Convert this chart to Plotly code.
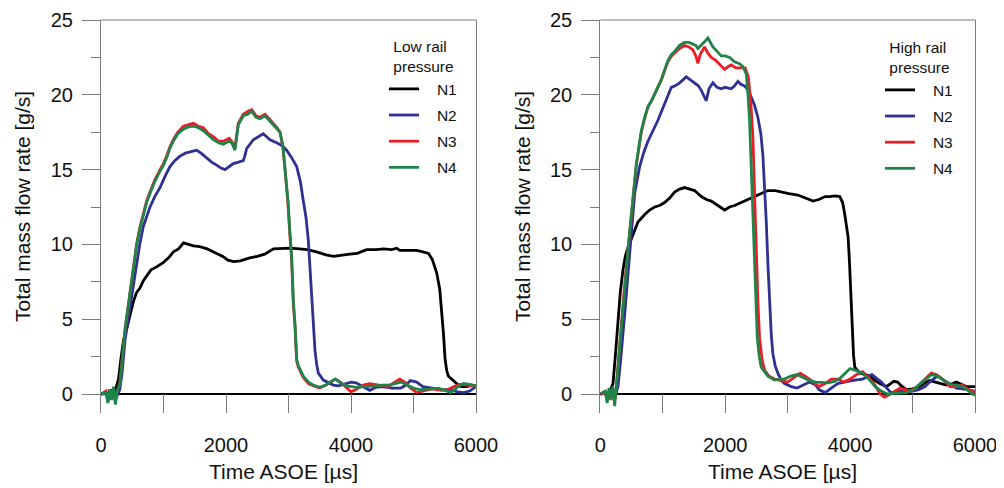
import plotly.graph_objects as go

# ---------------- data ----------------
# Low rail pressure
t_low_n1 = [0, 80, 120, 160, 200, 240, 280, 320, 360, 420, 470, 520, 570, 625, 680, 730, 800, 890, 1000, 1080,
            1160, 1240, 1320, 1400, 1480, 1580, 1700, 1850, 1950, 2030, 2120, 2230, 2380, 2500, 2620, 2760, 2900,
            3020, 3180, 3300, 3450, 3600, 3720, 3850, 3980, 4100, 4250, 4400, 4520, 4650, 4731, 4780, 4900, 5050,
            5150, 5240, 5300, 5371, 5420, 5451, 5480, 5504, 5530, 5557, 5630, 5690, 5760, 5850, 5930, 6000]
v_low_n1 = [0, 0.1, -0.3, 0.3, -0.2, 0.4, 1.0, 2.4, 3.6, 4.5, 5.3, 6.2, 6.8, 7.1, 7.6, 7.9, 8.3, 8.5, 8.8, 9.1,
            9.5, 9.7, 10.1, 10.0, 9.9, 9.85, 9.7, 9.4, 9.2, 8.95, 8.85, 8.9, 9.1, 9.2, 9.35, 9.7, 9.75,
            9.75, 9.7, 9.65, 9.5, 9.3, 9.2, 9.25, 9.35, 9.4, 9.65, 9.65, 9.7, 9.65, 9.75, 9.6, 9.6, 9.6,
            9.5, 9.4, 9.0, 8.1, 7.0, 5.6, 4.0, 2.4, 1.6, 1.2, 0.9, 0.7, 0.5, 0.5, 0.6, 0.55]

t_low_n2 = [0, 100, 150, 200, 250, 300, 340, 384, 420, 464, 520, 570, 620, 677, 730, 784, 860, 944, 1030, 1104,
            1180, 1264, 1350, 1424, 1530, 1600, 1690, 1770, 1850, 1920, 1984, 2050, 2117, 2200, 2277, 2300, 2330,
            2437, 2520, 2597, 2650, 2704, 2810, 2900, 2970, 3050, 3131, 3190, 3237, 3280, 3317, 3345, 3371, 3400,
            3424, 3450, 3477, 3557, 3640, 3717, 3800, 3900, 4000, 4080, 4180, 4300, 4400, 4500, 4650, 4800, 4880,
            4950, 5050, 5150, 5300, 5450, 5600, 5700, 5800, 5900, 6000]
v_low_n2 = [0, 0.05, -0.3, 0.1, -0.2, 0.3, 1.5, 3.6, 4.6, 5.8, 7.3, 8.7, 10.0, 11.2, 11.9, 12.5, 13.2, 13.8, 14.6, 15.2,
            15.6, 15.9, 16.1, 16.2, 16.3, 16.1, 15.8, 15.5, 15.3, 15.1, 15.0, 15.2, 15.4, 15.5, 15.6, 15.9, 16.4,
            17.0, 17.2, 17.4, 17.2, 17.0, 16.8, 16.6, 16.3, 15.8, 15.2, 14.2, 12.9, 11.8, 10.3, 8.4, 6.3, 4.4,
            2.9, 2.0, 1.4, 0.93, 0.75, 0.6, 0.55, 0.65, 0.8, 0.75, 0.5, 0.25, 0.45, 0.5, 0.4, 0.4, 0.6,
            0.9, 0.8, 0.5, 0.4, 0.3, 0.3, 0.15, 0.1, 0.2, 0.5]

t_low_n3 = [0, 80, 110, 140, 170, 200, 230, 260, 304, 340, 384, 420, 464, 520, 570, 620, 677, 730, 784, 860,
            944, 1000, 1050, 1100, 1157, 1230, 1317, 1400, 1477, 1560, 1637, 1720, 1797, 1880, 1957, 2050, 2090,
            2144, 2197, 2277, 2350, 2411, 2480, 2544, 2624, 2690, 2757, 2820, 2864, 2910, 2944, 2990, 3024, 3050,
            3077, 3104, 3131, 3157, 3237, 3320, 3397, 3500, 3600, 3680, 3750, 3830, 3920, 4000, 4080, 4200, 4300,
            4400, 4500, 4600, 4700, 4780, 4860, 4950, 5050, 5150, 5300, 5450, 5550, 5650, 5750, 5850, 6000]
v_low_n3 = [0, 0.2, -0.5, 0.3, -0.3, 0.4, -0.5, 0.2, 0.8, 2.6, 4.3, 5.4, 6.7, 8.4, 10.0, 11.1, 12.1, 12.9, 13.5, 14.3,
            15.0, 15.4, 15.9, 16.5, 17.0, 17.5, 17.9, 18.0, 18.1, 17.9, 17.8, 17.4, 17.2, 16.9, 16.9, 17.1, 16.9,
            16.5, 18.1, 18.7, 18.9, 19.0, 18.6, 18.5, 18.7, 18.4, 18.1, 17.8, 17.5, 16.5, 15.0, 12.8, 10.5, 9.0,
            6.0, 4.5, 2.2, 1.8, 1.1, 0.7, 0.55, 0.4, 0.6, 0.8, 1.0, 0.8, 0.45, 0.15, 0.3, 0.6, 0.7,
            0.65, 0.55, 0.5, 0.8, 1.0, 0.8, 0.4, 0.1, 0.2, 0.35, 0.25, 0.3, 0.5, 0.65, 0.6, 0.5]

t_low_n4 = [0, 80, 110, 140, 170, 200, 230, 260, 304, 340, 384, 420, 464, 520, 570, 620, 677, 730, 784, 860,
            944, 1000, 1050, 1100, 1157, 1230, 1317, 1400, 1477, 1560, 1637, 1720, 1797, 1880, 1957, 2050, 2090,
            2144, 2197, 2277, 2350, 2411, 2480, 2544, 2624, 2690, 2757, 2820, 2864, 2910, 2944, 2990, 3024, 3050,
            3077, 3104, 3131, 3157, 3237, 3320, 3397, 3500, 3600, 3680, 3750, 3830, 3920, 4000, 4100, 4200, 4300,
            4400, 4500, 4600, 4700, 4800, 4900, 5000, 5100, 5200, 5300, 5400, 5500, 5600, 5700, 5800, 5900, 6000]
v_low_n4 = [0, 0.1, -0.6, 0.3, -0.4, 0.5, -0.7, 0.2, 0.7, 2.5, 4.3, 5.4, 6.7, 8.4, 10.0, 11.0, 12.0, 12.8, 13.4, 14.2,
            14.9, 15.3, 15.8, 16.4, 16.9, 17.4, 17.7, 17.85, 17.9, 17.8, 17.6, 17.3, 17.0, 16.8, 16.7, 16.9, 16.8,
            16.3, 18.0, 18.6, 18.7, 18.9, 18.5, 18.4, 18.6, 18.3, 18.0, 17.7, 17.5, 16.6, 15.2, 13.0, 10.7, 9.2,
            6.3, 4.7, 2.3, 1.9, 1.2, 0.8, 0.6, 0.45, 0.6, 0.85, 1.0, 0.75, 0.55, 0.5, 0.45, 0.5, 0.5,
            0.55, 0.6, 0.6, 0.7, 0.8, 0.6, 0.4, 0.3, 0.3, 0.35, 0.4, 0.25, 0.1, 0.45, 0.7, 0.65, 0.55]

# High rail pressure
t_high_n1 = [0, 80, 120, 160, 203, 240, 283, 320, 363, 400, 443, 523, 603, 710, 790, 870, 950, 1030, 1110, 1190,
             1270, 1350, 1430, 1510, 1617, 1700, 1777, 1880, 1990, 2070, 2150, 2310, 2470, 2580, 2683, 2800, 2897,
             3020, 3163, 3300, 3408, 3500, 3600, 3675, 3760, 3835, 3880, 3915, 3945, 3968, 3990, 4006, 4020, 4038,
             4055, 4075, 4155, 4240, 4315, 4400, 4475, 4582, 4650, 4700, 4760, 4820, 4902, 5000, 5115, 5200, 5275,
             5400, 5542, 5640, 5702, 5780, 5862, 6000]
v_high_n1 = [0, 0.1, -0.2, 0.2, 0.7, 2.5, 4.9, 6.8, 8.3, 9.2, 9.8, 10.7, 11.5, 12.0, 12.3, 12.5, 12.6, 12.8, 13.1, 13.5,
             13.7, 13.8, 13.7, 13.6, 13.2, 13.0, 12.9, 12.6, 12.3, 12.5, 12.6, 12.9, 13.2, 13.4, 13.6, 13.6, 13.5,
             13.4, 13.3, 13.1, 12.9, 13.0, 13.2, 13.2, 13.25, 13.2, 12.8, 12.0, 11.2, 10.5, 8.8, 7.2, 5.5, 3.8,
             2.6, 1.8, 1.4, 1.3, 1.2, 0.9, 0.7, 0.5, 0.7, 0.85, 0.8, 0.55, 0.3, 0.35, 0.5, 0.75, 0.9,
             0.75, 0.6, 0.7, 0.8, 0.65, 0.5, 0.5]

t_high_n2 = [0, 100, 150, 200, 250, 283, 320, 363, 400, 443, 500, 550, 630, 700, 763, 840, 923, 1030, 1137, 1200,
             1270, 1377, 1440, 1510, 1570, 1617, 1697, 1740, 1803, 1870, 1937, 2000, 2097, 2150, 2203, 2250, 2310,
             2370, 2417, 2470, 2523, 2570, 2603, 2630, 2657, 2685, 2710, 2737, 2763, 2800, 2843, 2900, 2950, 3057,
             3150, 3200, 3350, 3450, 3500, 3600, 3700, 3800, 3900, 4000, 4100, 4200, 4350, 4500, 4580, 4650, 4800,
             4900, 5000, 5100, 5200, 5300, 5400, 5550, 5700, 5800, 5900, 6000]
v_high_n2 = [0, 0.1, -0.2, 0.1, 0.0, 0.5, 2.0, 3.8, 5.8, 8.0, 11.0, 13.4, 15.2, 16.2, 16.9, 17.6, 18.3, 19.4, 20.5, 20.6,
             20.8, 21.2, 21.0, 20.8, 20.6, 20.3, 19.6, 20.4, 20.8, 20.5, 20.4, 20.5, 20.4, 20.6, 20.9, 20.7, 20.6,
             20.3, 19.8, 19.3, 18.5, 17.4, 16.0, 14.0, 11.6, 8.6, 6.0, 4.0, 2.7, 1.9, 1.4, 0.9, 0.7, 0.5,
             0.4, 0.5, 0.8, 0.6, 0.3, 0.1, 0.4, 0.7, 0.8, 0.9, 0.95, 1.0, 1.3, 0.8, 0.4, 0.1, 0.2,
             0.15, 0.2, 0.3, 0.5, 0.9, 1.2, 0.8, 0.4, 0.35, 0.3, 0.2]

t_high_n3 = [0, 80, 110, 140, 170, 200, 240, 257, 300, 337, 380, 417, 460, 497, 540, 577, 620, 657, 710, 763,
             820, 870, 920, 977, 1030, 1083, 1140, 1190, 1270, 1350, 1420, 1483, 1530, 1563, 1600, 1670, 1720, 1777,
             1850, 1920, 1990, 2050, 2097, 2170, 2257, 2320, 2370, 2410, 2443, 2470, 2497, 2525, 2550, 2590, 2630,
             2700, 2790, 2900, 3000, 3100, 3200, 3280, 3350, 3500, 3600, 3700, 3800, 3900, 4000, 4100, 4200, 4300,
             4400, 4480, 4550, 4650, 4720, 4800, 4880, 4950, 5050, 5150, 5300, 5380, 5450, 5600, 5700, 5800, 5900, 6000]
v_high_n3 = [0, 0.1, -0.4, 0.2, -0.4, 0.3, -0.3, 0.6, 3.0, 4.9, 6.8, 8.5, 10.4, 12.0, 13.9, 15.3, 16.5, 17.5, 18.4, 19.2,
             19.6, 20.0, 20.5, 21.0, 21.6, 22.2, 22.6, 22.8, 23.1, 23.3, 23.2, 23.0, 22.6, 22.1, 22.7, 23.2, 22.8, 22.5,
             22.3, 22.0, 21.7, 21.9, 22.0, 21.8, 21.8, 21.8, 21.2, 19.5, 17.2, 13.5, 9.4, 6.0, 3.8, 2.3, 1.6,
             1.2, 1.0, 0.9, 0.8, 1.1, 1.4, 1.2, 1.0, 0.5, 0.7, 1.0, 1.0, 0.8, 1.0, 1.3, 1.5, 1.1,
             0.6, 0.0, -0.2, 0.0, 0.2, 0.4, 0.3, 0.2, 0.4, 0.8, 1.4, 1.3, 1.1, 0.5, 0.5, 0.6, 0.3, 0.1]

t_high_n4 = [0, 80, 110, 140, 170, 200, 230, 257, 300, 337, 380, 417, 460, 497, 540, 577, 620, 657, 710, 763,
             820, 870, 920, 977, 1030, 1083, 1140, 1190, 1270, 1350, 1420, 1483, 1530, 1563, 1617, 1680, 1723, 1770,
             1803, 1870, 1937, 2000, 2070, 2150, 2220, 2283, 2337, 2365, 2390, 2410, 2427, 2450, 2470, 2490, 2513,
             2545, 2577, 2630, 2683, 2790, 2870, 2950, 3050, 3150, 3250, 3350, 3450, 3550, 3650, 3750, 3850, 3950,
             4000, 4080, 4200, 4300, 4400, 4500, 4600, 4700, 4800, 4900, 5000, 5100, 5200, 5300, 5400, 5500, 5600,
             5700, 5800, 5900, 6000]
v_high_n4 = [0, 0.2, -0.6, 0.4, -0.3, 0.5, -0.8, 0.5, 2.8, 4.9, 6.8, 8.5, 10.4, 12.0, 13.9, 15.4, 16.6, 17.6, 18.5, 19.2,
             19.6, 20.0, 20.5, 21.0, 21.7, 22.3, 22.7, 22.9, 23.3, 23.5, 23.5, 23.4, 23.3, 23.1, 23.3, 23.6, 23.8, 23.5,
             23.2, 22.9, 22.6, 22.6, 22.5, 22.2, 22.1, 21.9, 21.4, 20.0, 18.3, 16.0, 13.8, 11.0, 8.3, 6.0, 3.8,
             2.5, 1.8, 1.5, 1.2, 0.93, 1.0, 1.0, 1.2, 1.3, 1.1, 0.9, 0.8, 0.8, 0.75, 0.85, 1.1, 1.5,
             1.7, 1.6, 1.4, 1.0, 0.5, 0.2, 0.0, 0.05, 0.1, 0.1, 0.25, 0.6, 0.95, 1.3, 1.2, 0.9, 0.65,
             0.6, 0.5, 0.2, -0.1]

series_names = ["N1", "N2", "N3", "N4"]
series_colors = ["#000000", "#2E3192", "#ED1C24", "#1E8449"]
x_tick_vals = [0, 2000, 4000, 6000]
y_tick_vals = [0, 5, 10, 15, 20, 25]
panel_legend_titles = ["Low rail<br>pressure", "High rail<br>pressure"]
x_title = "Time ASOE [µs]"
y_title = "Total mass flow rate [g/s]"

low_data = [(t_low_n1, v_low_n1), (t_low_n2, v_low_n2), (t_low_n3, v_low_n3), (t_low_n4, v_low_n4)]
high_data = [(t_high_n1, v_high_n1), (t_high_n2, v_high_n2), (t_high_n3, v_high_n3), (t_high_n4, v_high_n4)]

# ---------------- figure ----------------
# The page body adds an 8 px margin, so the figure is 8 px smaller and all
# reference pixel positions are shifted by that offset.
OFF = 8
W, H = 1004 - OFF, 488 - OFF
def px(X):
    return (X - OFF) / W
def py(Y):
    return 1 - (Y - OFF) / H

FONT = "Arial, Liberation Sans, Helvetica, sans-serif"
AX = "#7a7a7a"
TXT = "#111111"

fig = go.Figure()
for panel, (data, xa, ya, lg) in enumerate([(low_data, "x", "y", "legend"), (high_data, "x2", "y2", "legend2")]):
    for i, (t, v) in enumerate(data):
        fig.add_trace(go.Scatter(
            x=t, y=v, mode="lines", name="\u00a0\u00a0\u00a0" + series_names[i],
            line=dict(color=series_colors[i], width=2.8),
            xaxis=xa, yaxis=ya, legend=lg, legendgroup=f"{panel}-{i}",
        ))

y_dom = [py(413), py(20)]
x1_dom = [px(101), px(476)]
x2_dom = [px(600.3), px(975)]

def xaxis_cfg(dom, anchor):
    return dict(domain=dom, anchor=anchor, range=[0, 6000], tickvals=x_tick_vals,
                ticks="inside", ticklen=19, tickcolor=AX, tickwidth=1.2,
                minor=dict(dtick=1000, tick0=0, ticks="inside", ticklen=19, tickcolor=AX, tickwidth=1.2),
                showline=False, showgrid=False, zeroline=False, automargin=False,
                ticklabelstandoff=18,
                tickfont=dict(family=FONT, size=20, color=TXT))

def yaxis_cfg(anchor):
    return dict(domain=y_dom, anchor=anchor, range=[-19 / 15, 25], tickvals=y_tick_vals,
                ticks="outside", ticklen=18, tickcolor=AX, tickwidth=1.2,
                minor=dict(dtick=2.5, tick0=0, ticks="outside", ticklen=9, tickcolor=AX, tickwidth=1.2),
                showline=True, linecolor=AX, linewidth=1.2, mirror=True,
                showgrid=False, zeroline=True, zerolinecolor="#000000", zerolinewidth=1.5,
                automargin=False, ticklabelstandoff=5,
                tickfont=dict(family=FONT, size=20, color=TXT))

legend_common = dict(xanchor="left", yanchor="top", bgcolor="rgba(0,0,0,0)", borderwidth=0,
                     font=dict(family=FONT, size=15.5, color=TXT), tracegroupgap=3,
                     itemwidth=30)

fig.update_layout(
    template="none",
    width=W, height=H, margin=dict(l=0, r=0, t=0, b=0, pad=0, autoexpand=False),
    paper_bgcolor="white", plot_bgcolor="white",
    xaxis=xaxis_cfg(x1_dom, "y"), yaxis=yaxis_cfg("x"),
    xaxis2=xaxis_cfg(x2_dom, "y2"), yaxis2=yaxis_cfg("x2"),
    legend=dict(x=px(384), y=py(32),
                title=dict(text=panel_legend_titles[0], side="top center",
                           font=dict(family=FONT, size=15.5, color=TXT)), **legend_common),
    legend2=dict(x=px(880), y=py(33),
                 title=dict(text=panel_legend_titles[1], side="top center",
                            font=dict(family=FONT, size=15.5, color=TXT)), **legend_common),
    showlegend=True,
)

# frame tops (top border of each panel)
for xr, yr in [("x domain", "y domain"), ("x2 domain", "y2 domain")]:
    fig.add_shape(type="line", xref=xr, yref=yr, x0=0, x1=1, y0=1, y1=1,
                  line=dict(color=AX, width=1.2))

# axis titles
for cx, cy_x, cx_y in [(283, 471, 22.5), (782.5, 471, 522.5)]:
    fig.add_annotation(text=x_title, x=px(cx), y=py(cy_x), xref="paper", yref="paper",
                       showarrow=False, xanchor="center", yanchor="middle",
                       font=dict(family=FONT, size=21, color=TXT))
    fig.add_annotation(text=y_title, x=px(cx_y), y=py(206.5), xref="paper", yref="paper",
                       showarrow=False, xanchor="center", yanchor="middle", textangle=-90,
                       font=dict(family=FONT, size=21, color=TXT))

fig.write_html("out.html")
